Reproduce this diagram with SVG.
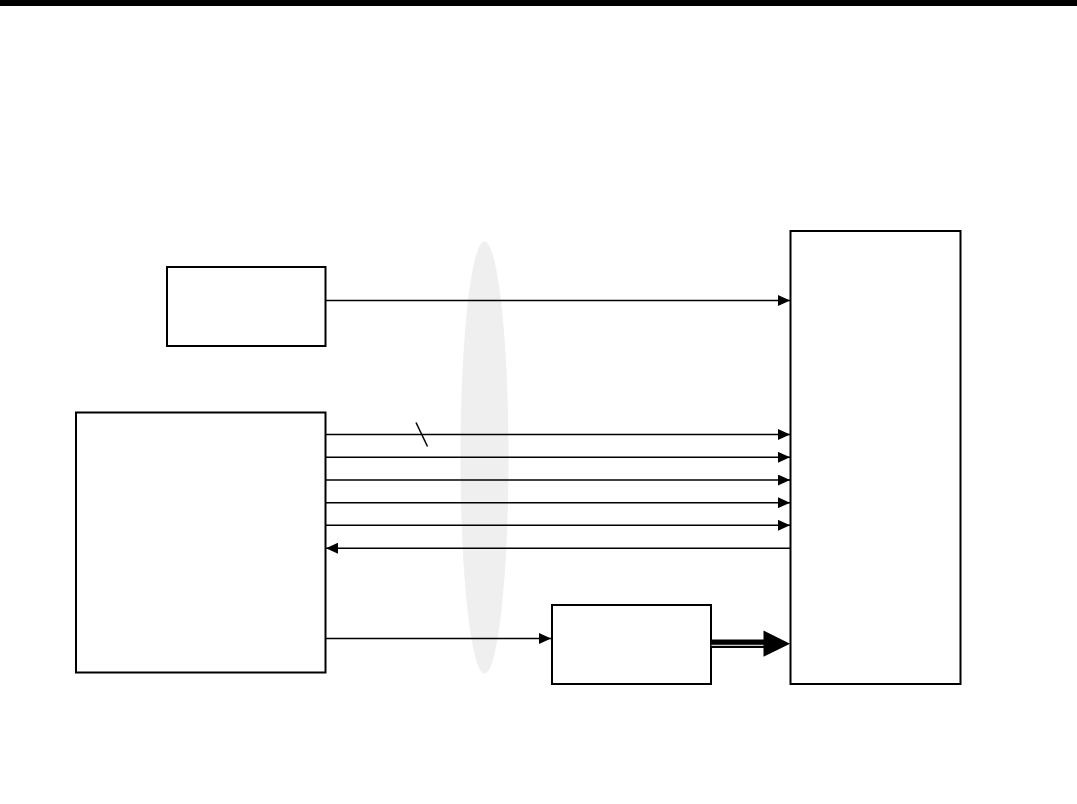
<svg xmlns="http://www.w3.org/2000/svg" width="1077" height="804" viewBox="0 0 1077 804">
<style>
.box{fill:#fff;stroke:#000;stroke-width:2}
.ln{fill:none;stroke:#000;stroke-width:1.5}
</style>
<defs>
<marker id="ah" markerWidth="12" markerHeight="11" refX="12" refY="5.5" orient="auto" markerUnits="userSpaceOnUse">
<path d="M0,0 L12,5.5 L0,11 Z" fill="#000"/>
</marker>
</defs>
<rect x="0" y="0" width="1077" height="6" fill="#000"/>
<ellipse id="bundle" cx="484.5" cy="457.5" rx="24" ry="216" fill="#efefef"/>
<g id="node-small"><rect class="box" x="167" y="267" width="158.5" height="79"/></g>
<g id="node-left"><rect class="box" x="76" y="412.5" width="249.5" height="260"/></g>
<g id="node-mid"><rect class="box" x="552" y="605" width="159" height="79"/></g>
<g id="node-right"><rect class="box" x="790.5" y="231" width="170" height="453"/></g>
<g id="connectors">
<line class="ln" x1="326" y1="300.5" x2="790" y2="300.5" marker-end="url(#ah)"/>
<line class="ln" x1="326" y1="434.5" x2="790" y2="434.5" marker-end="url(#ah)"/>
<line class="ln" x1="416" y1="422.5" x2="427.5" y2="446.5"/>
<line class="ln" x1="326" y1="457.3" x2="790" y2="457.3" marker-end="url(#ah)"/>
<line class="ln" x1="326" y1="480" x2="790" y2="480" marker-end="url(#ah)"/>
<line class="ln" x1="326" y1="502.7" x2="790" y2="502.7" marker-end="url(#ah)"/>
<line class="ln" x1="326" y1="525.3" x2="790" y2="525.3" marker-end="url(#ah)"/>
<line class="ln" x1="790" y1="548.2" x2="326" y2="548.2" marker-end="url(#ah)"/>
<line class="ln" x1="326" y1="638.5" x2="551" y2="638.5" marker-end="url(#ah)"/>
<rect x="711.5" y="639.5" width="53" height="8.5" fill="#000"/>
<line x1="711.5" y1="645.3" x2="764" y2="645.3" stroke="#fff" stroke-width="1"/>
<path d="M763.5,630.5 L790,643.7 L763.5,656.8 Z" fill="#000"/>
</g>
</svg>
